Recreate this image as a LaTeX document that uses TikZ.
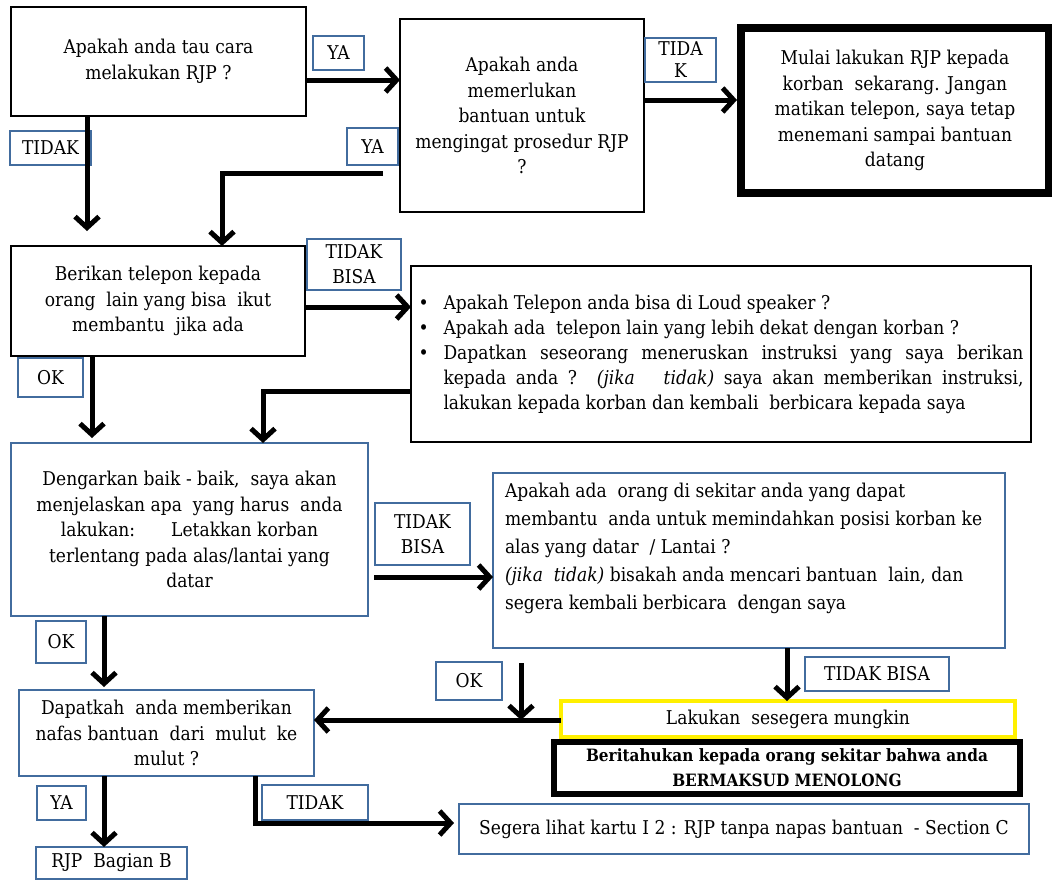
\documentclass[tikz,border=0pt]{standalone}
\usepackage{fontspec}
\setmainfont{DejaVu Serif}[FakeStretch=0.9]
\usetikzlibrary{arrows.meta}
\definecolor{edgeblue}{RGB}{66,108,158}
\definecolor{markyellow}{RGB}{255,240,0}

\begin{document}
\begin{tikzpicture}[x=1pt,y=-1pt,
  every node/.style={outer sep=0pt, inner sep=0pt},
  corners/.style n args={4}{at={(#1,#2)}, anchor=north west,
    minimum width={(#3-#1)*1pt}, minimum height={(#4-#2)*1pt}},
  bodytext/.style={font=\fontsize{19}{25.5}\selectfont, align=center},
  blackbox/.style={draw=black, line width=2.6pt, fill=white, bodytext},
  bluebox/.style={draw=edgeblue, line width=2.6pt, fill=white, bodytext},
  tag/.style={draw=edgeblue, line width=2.6pt, fill=white, align=center,
    font=\fontsize{19}{22}\selectfont},
  flow/.style={line width=5pt, -{Straight Barb[length=11pt, width=24pt]}},
  plain/.style={line width=5pt}
]
\useasboundingbox (0,0) rectangle (1052,881);

% ---- boxes ----
\node[blackbox, corners={11}{7}{306}{116}] (know) {Apakah anda tau cara\\melakukan RJP ?};
\node[blackbox, corners={400}{19}{644}{212}] (remind)
  {Apakah anda\\memerlukan\\bantuan untuk\\mengingat prosedur RJP\\?};
\node[blackbox, line width=8pt, corners={741}{28}{1049}{193}] (start)
  {Mulai lakukan RJP kepada\\korban\ \ sekarang. Jangan\\matikan telepon, saya tetap\\menemani sampai bantuan\\datang};
\node[blackbox, corners={11}{246}{305}{356}] (handover)
  {Berikan telepon kepada\\orang\ \ lain yang bisa\ \ ikut\\membantu\ \ jika ada};
\node[blackbox, corners={411}{266}{1031}{442}] (options)
  {\parbox{605pt}{\setlength{\parindent}{0pt}\fontsize{19}{25}\selectfont
   \makebox[25pt][l]{•}Apakah Telepon anda bisa di Loud speaker ?\par
   \makebox[25pt][l]{•}Apakah ada\ \ telepon lain yang lebih dekat dengan korban ?\par
   \hangindent=25pt\hangafter=1
   \makebox[25pt][l]{•}Dapatkan seseorang meneruskan instruksi yang saya berikan\linebreak
   kepada anda ? \textit{(jika\ \ \ tidak)} saya akan memberikan instruksi,\linebreak
   lakukan kepada korban dan kembali\ \ berbicara kepada saya\par}};
\node[bluebox, corners={11}{443}{368}{616}] (listen)
  {Dengarkan baik - baik,\ \ saya akan\\menjelaskan apa\ \ yang harus\ \ anda\\lakukan:\hspace{36pt}Letakkan korban\\terlentang pada alas/lantai yang\\datar};
\node[bluebox, corners={493}{473}{1005}{648}] (helper)
  {\parbox[c][155pt][t]{488pt}{\raggedright\fontsize{19}{28}\selectfont
   Apakah ada\ \ orang di sekitar anda yang dapat\\
   membantu\ \ anda untuk memindahkan posisi korban ke\\
   alas yang datar\ \ / Lantai ?\\
   \textit{(jika\ \ tidak)} bisakah anda mencari bantuan\ \ lain, dan\\
   segera kembali berbicara\ \ dengan saya}};
\node[bluebox, corners={19}{690}{314}{776}] (breath)
  {Dapatkah\ \ anda memberikan\\nafas bantuan\ \ dari\ \ mulut\ \ ke\\mulut ?};
\node[bluebox, corners={36}{847}{187}{879}] (partb) {RJP\ \ Bagian B};
\node[draw=markyellow, line width=4pt, fill=white, bodytext,
      corners={561}{701}{1015}{737}] (asap) {Lakukan\ \ sesegera mungkin};
\node[draw=black, line width=6pt, fill=white, align=center,
      font=\fontsize{17}{25}\selectfont\bfseries,
      corners={554}{742}{1020}{794}] (announce)
  {Beritahukan kepada orang sekitar bahwa anda\\BERMAKSUD MENOLONG};
\node[bluebox, corners={459}{804}{1029}{854}] (sectionc)
  {Segera lihat kartu I 2 : RJP tanpa napas bantuan\ \ - Section C};

% ---- answer tags ----
\node[tag, corners={313}{36}{364}{70}] (t1) {YA};
\node[tag, corners={10}{131}{91}{165}] (t2) {TIDAK};
\node[tag, corners={347}{128}{398}{165}] (t3) {YA};
\node[tag, corners={645}{38}{716}{82}] (t4) {TIDA\\K};
\node[tag, corners={307}{239}{401}{290}, font=\fontsize{19}{25}\selectfont] (t5) {TIDAK\\BISA};
\node[tag, corners={18}{358}{83}{397}] (t6) {OK};
\node[tag, corners={375}{503}{470}{565}, font=\fontsize{19}{25}\selectfont] (t7) {TIDAK\\BISA};
\node[tag, corners={36}{621}{86}{663}] (t8) {OK};
\node[tag, corners={436}{662}{502}{700}] (t9) {OK};
\node[tag, corners={805}{657}{949}{691}] (t10) {TIDAK BISA};
\node[tag, corners={37}{786}{86}{820}] (t11) {YA};
\node[tag, corners={262}{785}{368}{820}] (t12) {TIDAK};

% ---- reference levels and free ends ----
\coordinate (r80) at (0,80);
\coordinate (r100) at (0,100);
\coordinate (r307) at (0,307);
\coordinate (r391) at (0,391);
\coordinate (r577) at (0,577);
\coordinate (r720) at (0,720);
\coordinate (r823) at (0,823);
\coordinate (c87) at (87,0);
\coordinate (c92) at (92,0);
\coordinate (c104) at (104,0);
\coordinate (c222) at (222,0);
\coordinate (c255) at (255,0);
\coordinate (c263) at (263,0);
\coordinate (c787) at (787,0);
\coordinate (noEnd) at (87,231);
\coordinate (yesStart) at (383,173);
\coordinate (okTop) at (521,663);
\coordinate (okJoin) at (521,720);

% ---- connectors ----
\draw[flow] (know.east |- r80) -- (remind.west |- r80);
\draw[flow] (know.south -| c87) -- (noEnd);
\draw[flow] (yesStart) -- (yesStart -| c222) -- (handover.north -| c222);
\draw[flow, shorten >=4pt] (remind.east |- r100) -- (start.west |- r100);
\draw[flow] (handover.east |- r307) -- (options.west |- r307);
\draw[flow, shorten >=5pt] (handover.south -| c92) -- (listen.north -| c92);
\draw[flow] (options.west |- r391) -- (c263 |- r391) -- (listen.north -| c263);
\draw[flow, shorten <=6pt] (listen.east |- r577) -- (helper.west |- r577);
\draw[flow, shorten >=3pt] (listen.south -| c104) -- (breath.north -| c104);
\draw[flow] (helper.south -| c787) -- (asap.north -| c787);
\draw[flow] (asap.west |- r720) -- (breath.east |- r720);
\draw[flow] (okTop) -- (okJoin);
\draw[flow] (breath.south -| c104) -- (partb.north -| c104);
\draw[flow, shorten >=5pt] (breath.south -| c255) -- (c255 |- r823) -- (sectionc.west |- r823);
\end{tikzpicture}
\end{document}
